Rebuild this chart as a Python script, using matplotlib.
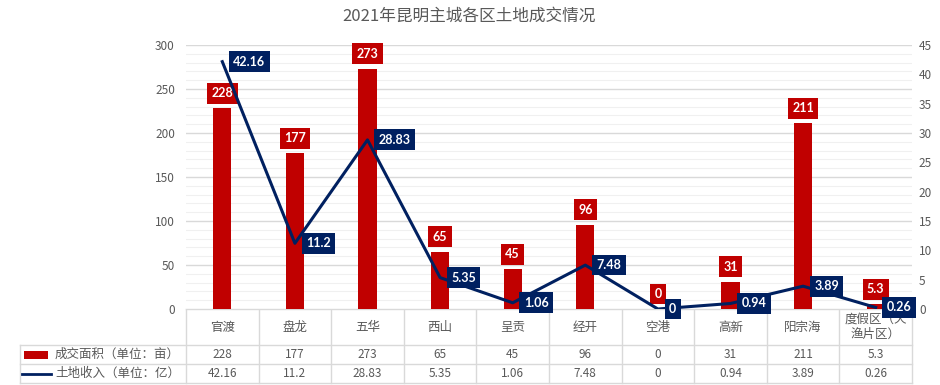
import matplotlib
matplotlib.use("Agg")
import matplotlib.pyplot as plt
from matplotlib.lines import Line2D
from matplotlib.patches import Rectangle
import numpy as np

plt.rcParams['font.family'] = ['Noto Sans CJK SC', 'DejaVu Sans']

title = "2021年昆明主城各区土地成交情况"
categories = ["官渡", "盘龙", "五华", "西山", "呈贡", "经开", "空港", "高新", "阳宗海", "度假区（天渔片区）"]
cat_display = ["官渡", "盘龙", "五华", "西山", "呈贡", "经开", "空港", "高新", "阳宗海", "度假区（天\n渔片区）"]
area = [228, 177, 273, 65, 45, 96, 0, 31, 211, 5.3]
income = [42.16, 11.2, 28.83, 5.35, 1.06, 7.48, 0, 0.94, 3.89, 0.26]
area_name = "成交面积（单位：亩）"
income_name = "土地收入（单位：亿）"
left_ticks = [0, 50, 100, 150, 200, 250, 300]
right_ticks = [0, 5, 10, 15, 20, 25, 30, 35, 40, 45]

RED = "#C00000"
NAVY = "#002060"
GRAY = "#595959"
GRID = "#D9D9D9"
LBLFONT = ['Lato', 'Liberation Sans', 'DejaVu Sans']

W, H = 940, 385
fig = plt.figure(figsize=(W / 100, H / 100), dpi=100)

x0, x1 = 186, 912
ytop, ybot = 45, 309
ax = fig.add_axes([x0 / W, 1 - ybot / H, (x1 - x0) / W, (ybot - ytop) / H])
n = len(categories)
x = np.arange(n)
ax.set_xlim(-0.5, n - 0.5)
ax.set_ylim(0, 300)
ax.set_yticks(left_ticks)
ax.set_yticks(np.arange(0, 301, 10), minor=True)
ax.grid(axis='y', which='major', color=GRID, lw=1.0)
ax.grid(axis='y', which='minor', color="#F0F0F0", lw=0.8)
ax.set_axisbelow(True)
ax.tick_params(axis='y', which='both', length=0, labelsize=8.5, labelcolor=GRAY, pad=8)
ax.tick_params(axis='x', length=0, labelbottom=False)
for s in ax.spines.values():
    s.set_visible(False)

ax.bar(x, area, width=0.25, color=RED, zorder=2)
for xi, v in zip(x, area):
    ax.annotate(f"{v:g}", (xi, v), xytext=(0, 15), textcoords='offset pixels',
                ha='center', va='center', color='white', fontsize=9, fontweight='bold',
                bbox=dict(boxstyle='square,pad=0.35', fc=RED, ec='none'), zorder=5,
                family=LBLFONT)

ax2 = ax.twinx()
ax2.set_ylim(0, 45)
ax2.set_yticks(right_ticks)
ax2.tick_params(axis='y', length=0, labelsize=8.5, labelcolor=GRAY, pad=5)
for s in ax2.spines.values():
    s.set_visible(False)
ax2.plot(x, income, color=NAVY, lw=2.2, zorder=3, solid_joinstyle='round')
for xi, v in zip(x, income):
    ax2.annotate(f"{v:g}", (xi, v), xytext=(11, 0), textcoords='offset pixels',
                 ha='left', va='center', color='white', fontsize=9, fontweight='bold',
                 bbox=dict(boxstyle='square,pad=0.35', fc=NAVY, ec='none'), zorder=6,
                 family=LBLFONT)

fig.text(469 / W, 1 - 16 / H, title, ha='center', va='center', fontsize=12, color=GRAY)

# data table overlay
ov = fig.add_axes([0, 0, 1, 1], zorder=-1)
ov.set_xlim(0, W)
ov.set_ylim(H, 0)
ov.axis('off')
cw = (x1 - x0) / n
r0, r1, r2, r3 = 309, 345, 364, 383
def hl(y, xa, xb):
    ov.add_line(Line2D([xa, xb], [y, y], color=GRID, lw=1))
def vl(xx, ya, yb):
    ov.add_line(Line2D([xx, xx], [ya, yb], color=GRID, lw=1))
hl(r0, x0, x1)
hl(r1, 20, x1)
hl(r2, 20, x1)
hl(r3, 20, x1)
vl(20, r1, r3)
for i in range(n + 1):
    vl(x0 + i * cw, r0, r3)
for i in range(n):
    cx = x0 + (i + 0.5) * cw
    ov.text(cx, (r0 + r1) / 2, cat_display[i], ha='center', va='center', fontsize=9,
            color=GRAY, linespacing=1.1)
    ov.text(cx, (r1 + r2) / 2, f"{area[i]:g}", ha='center', va='center', fontsize=8.5, color=GRAY)
    ov.text(cx, (r2 + r3) / 2, f"{income[i]:g}", ha='center', va='center', fontsize=8.5, color=GRAY)
ov.add_patch(Rectangle((24, 351), 24, 8, fc=RED, ec='none'))
ov.add_line(Line2D([22, 51], [373.5, 373.5], color=NAVY, lw=2))
ov.text(55, (r1 + r2) / 2, area_name, ha='left', va='center', fontsize=9, color=GRAY)
ov.text(55, (r2 + r3) / 2, income_name, ha='left', va='center', fontsize=9, color=GRAY)

fig.savefig("out.png", dpi=100, facecolor='white')
